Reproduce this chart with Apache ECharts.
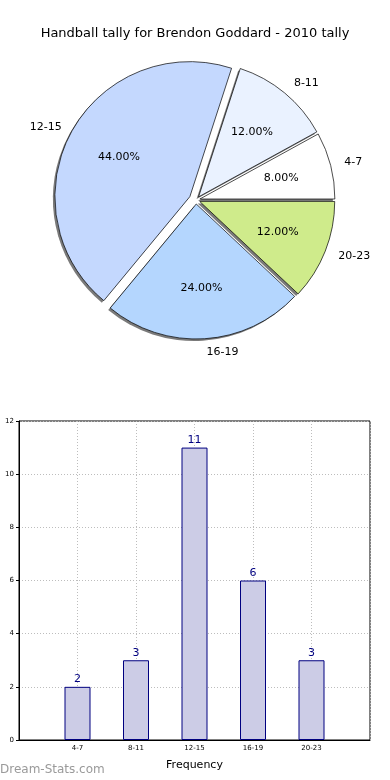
<!DOCTYPE html>
<html><head><meta charset="utf-8">
<script src="https://cdn.jsdelivr.net/npm/echarts@6/dist/echarts.min.js"></script>
<style>html,body{margin:0;padding:0;background:#fff}#c{width:390px;height:780px}</style>
</head><body><div id="c"></div>
<script>
var categories = ['4-7', '8-11', '12-15', '16-19', '20-23'];
var counts = [2, 3, 11, 6, 3];
var sliceColors = ['#ffffff', '#eaf2ff', '#c4d8fe', '#b4d6fe', '#cfeb8b'];
var yTicks = [0, 2, 4, 6, 8, 10, 12];
var titleText = 'Handball tally for Brendon Goddard - 2010 tally';
var bigSlice = '12-15';

var FONT = 'DejaVu Sans';
var CX = 196, CY = 200, R = 135;
var total = counts.reduce(function (a, b) { return a + b; }, 0);

function pieData(mode, shadow) {
  return categories.map(function (c, i) {
    var isBig = c === bigSlice;
    var fill = shadow ? '#7a7a7a' : sliceColors[i];
    var item = { name: c, value: counts[i], selected: true };
    if (mode === 'main') {
      item.itemStyle = isBig ? { opacity: 0 } : { color: fill };
      item.selected = !isBig;
    } else if (mode === 'big') {
      item.itemStyle = isBig ? { color: fill } : { opacity: 0 };
      item.selected = isBig;
    } else {
      item.itemStyle = { color: 'rgba(0,0,0,0)' };
    }
    return item;
  });
}

function shapeSeries(mode, offset, shadow) {
  return {
    type: 'pie', center: shadow ? [CX - 2, CY + 2] : [CX, CY], radius: R,
    startAngle: 0, clockwise: false,
    selectedMode: 'multiple', selectedOffset: offset, animation: false, silent: true,
    label: { show: false }, labelLine: { show: false },
    emphasis: { disabled: true },
    itemStyle: shadow ? { borderWidth: 0 } : { borderColor: '#000', borderWidth: 0.7 },
    data: pieData(mode, shadow)
  };
}

var chart = echarts.init(document.getElementById('c'));
chart.setOption({
  animation: false,
  title: { text: titleText, left: 'center', top: 22,
    textStyle: { fontFamily: FONT, fontSize: 13, fontWeight: 'normal', color: '#000' } },
  graphic: [{ type: 'text', left: 0, top: 764,
    style: { text: 'Dream-Stats.com', fill: '#9a9a9a', font: '12px "DejaVu Sans"' } }],
  grid: { left: 19, right: 20, top: 421, bottom: 40, show: true, containLabel: false,
    outerBoundsMode: 'none',
    borderColor: '#000', borderWidth: 1, backgroundColor: '#fff' },
  xAxis: {
    type: 'category', boundaryGap: false, data: [''].concat(categories, ['']),
    name: 'Frequency', nameLocation: 'middle', nameGap: 20,
    nameTextStyle: { fontFamily: FONT, fontSize: 11, color: '#000' },
    axisLine: { lineStyle: { color: '#000' } },
    axisTick: { show: false },
    axisLabel: { fontFamily: FONT, fontSize: 7, color: '#000', margin: 5 },
    splitLine: { show: true, lineStyle: { color: '#bdbdbd', type: [1, 2] } }
  },
  yAxis: {
    type: 'value', min: yTicks[0], max: yTicks[yTicks.length - 1], interval: 2,
    name: 'Stat Count Tally', nameLocation: 'middle', nameGap: 18, nameRotate: 90,
    nameTextStyle: { fontFamily: FONT, fontSize: 11, color: '#000' },
    axisLine: { show: true, lineStyle: { color: '#000' } },
    axisTick: { show: true, length: 3, lineStyle: { color: '#000' } },
    axisLabel: { fontFamily: FONT, fontSize: 7, color: '#000', margin: 5 },
    splitLine: { show: true, lineStyle: { color: '#bdbdbd', type: [1, 2] } }
  },
  series: [
    shapeSeries('main', 4, true),
    shapeSeries('big', 7, true),
    shapeSeries('main', 4, false),
    shapeSeries('big', 7, false),
    { type: 'pie', center: [CX, CY], radius: R * 1.2, startAngle: 0, clockwise: false,
      selectedMode: 'multiple', selectedOffset: 4, silent: true, animation: false,
      emphasis: { disabled: true },
      itemStyle: { color: 'rgba(0,0,0,0)', borderWidth: 0 },
      label: { show: true, position: 'inside',
        formatter: function (p) { return (p.value / total * 100).toFixed(2) + '%'; },
        fontFamily: FONT, fontSize: 11, color: '#000' },
      labelLine: { show: false }, data: pieData('pct') },
    { type: 'pie', center: [CX, CY], radius: R, startAngle: 0, clockwise: false,
      selectedMode: 'multiple', selectedOffset: 4, silent: true, animation: false,
      avoidLabelOverlap: false, emphasis: { disabled: true },
      itemStyle: { color: 'rgba(0,0,0,0)', borderWidth: 0 },
      label: { show: true, position: 'outside', formatter: '{b}', distanceToLabelLine: 1,
        fontFamily: FONT, fontSize: 11, color: '#000' },
      labelLine: { show: false, length: 13, length2: 0 }, data: pieData('name') },
    { type: 'bar', barWidth: 26, data: [null].concat(counts, [null]),
      itemStyle: { color: '#ccccE6', borderColor: '#000080', borderWidth: 1 },
      label: { show: true, position: 'top', distance: 2, fontFamily: FONT, fontSize: 11, color: '#000080' },
      emphasis: { disabled: true } }
  ]
});
</script></body></html>
